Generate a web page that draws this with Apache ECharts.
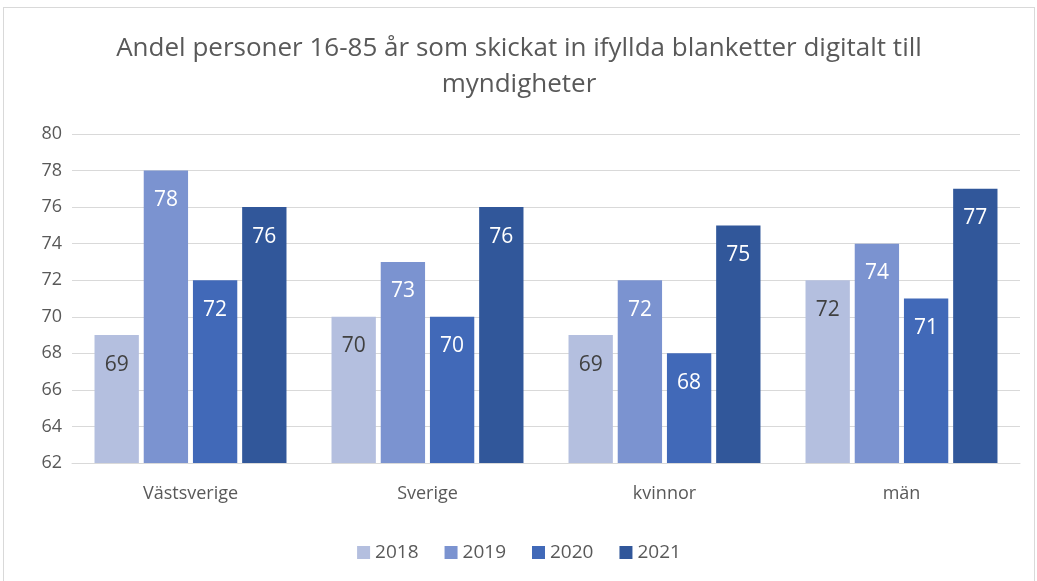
<!DOCTYPE html>
<html>
<head>
<meta charset="utf-8">
<script src="https://cdn.jsdelivr.net/npm/echarts@6/dist/echarts.min.js"></script>
<style>
  html, body { margin: 0; padding: 0; background: #fff; }
  #main { position: absolute; left: 3px; top: 7px; width: 1032px; height: 580px;
          border: 1px solid #d9d9d9; box-sizing: border-box; }
</style>
</head>
<body>
<div id="main"></div>
<script>
// data
var categories = ['Västsverige', 'Sverige', 'kvinnor', 'män'];
var years = ['2018', '2019', '2020', '2021'];
var v2018 = [69, 70, 69, 72];
var v2019 = [78, 73, 72, 74];
var v2020 = [72, 70, 68, 71];
var v2021 = [76, 76, 75, 77];
var yTicks = [62, 64, 66, 68, 70, 72, 74, 76, 78, 80];

var colors = ['#b4bfdf', '#7b93d0', '#4169b8', '#31579a'];
var values = [v2018, v2019, v2020, v2021];
var font = '"Open Sans", "Noto Sans", sans-serif';

var series = years.map(function (y, i) {
    return {
        name: y,
        type: 'bar',
        data: values[i],
        barGap: '11%',
        barCategoryGap: '19%',
        itemStyle: { color: colors[i] },
        label: {
            show: true,
            position: 'insideTop',
            distance: 19,
            fontSize: 21,
            fontFamily: font,
            color: i === 0 ? '#404040' : '#ffffff'
        }
    };
});

var option = {
    title: {
        text: 'Andel personer 16-85 år som skickat in ifyllda blanketter digitalt till\nmyndigheter',
        left: 'center',
        top: 18,
        textStyle: {
            fontSize: 26,
            fontWeight: 'normal',
            color: '#595959',
            fontFamily: font,
            lineHeight: 36
        }
    },
    legend: {
        data: years,
        top: 530,
        left: 'center',
        itemWidth: 13,
        itemHeight: 13,
        itemGap: 26,
        icon: 'rect',
        textStyle: { fontSize: 19, color: '#595959', fontFamily: font }
    },
    grid: {
        left: 68,
        right: 14,
        top: 126,
        bottom: 123
    },
    xAxis: {
        type: 'category',
        data: categories,
        axisLine: { lineStyle: { color: '#d9d9d9' } },
        axisTick: { show: false },
        axisLabel: { fontSize: 18, color: '#595959', fontFamily: font, margin: 22 }
    },
    yAxis: {
        type: 'value',
        min: yTicks[0],
        max: yTicks[yTicks.length - 1],
        interval: 2,
        axisLine: { show: false },
        axisTick: { show: false },
        splitLine: { lineStyle: { color: '#d9d9d9', width: 1 } },
        axisLabel: { fontSize: 18, color: '#595959', fontFamily: font, margin: 10 }
    },
    series: series
};

var myChart = echarts.init(document.getElementById('main'));
myChart.setOption(option);
</script>
</body>
</html>
